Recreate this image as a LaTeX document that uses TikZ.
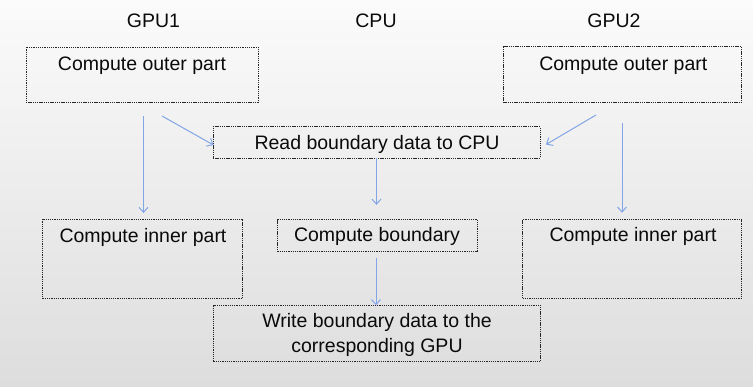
\documentclass[tikz,border=0pt]{standalone}
\usepackage{fontspec}
\setmainfont{Liberation Sans}
\usetikzlibrary{arrows.meta}
\definecolor{bgtop}{RGB}{251,251,251}
\definecolor{bgbot}{RGB}{221,221,221}
\definecolor{arr}{RGB}{130,165,232}
\definecolor{txtc}{RGB}{10,10,10}
\tikzset{
  stepbox/.style={draw=black!85, dash pattern=on 1.3pt off 0.9pt, line width=0.85pt, inner sep=0pt, outer sep=0pt},
  lbl/.style={font=\fontsize{19.5pt}{25pt}\selectfont, text=txtc, inner sep=0pt},
  flow/.style={draw=arr, line width=1pt, -{Straight Barb[length=5pt,width=9pt]}}
}
\begin{document}
\begin{tikzpicture}[x=1pt,y=-1pt]
\useasboundingbox (0,0) rectangle (753,386);
\shade[top color=bgtop, bottom color=bgbot] (0,0) rectangle (753,386);

% column headings
\node[lbl, anchor=base] (h1) at (153.5,27.5) {GPU1};
\node[lbl, anchor=base] (h2) at (376,27.5) {CPU};
\node[lbl, anchor=base] (h3) at (614,27.5) {GPU2};

% boxes
\node[stepbox, minimum width=232pt, minimum height=55pt] (o1) at (142,74.5) {};
\node[stepbox, minimum width=238.5pt, minimum height=55.5pt] (o2) at (622.5,74.5) {};
\node[stepbox, minimum width=327pt, minimum height=31.5pt] (rd) at (376.5,142.5) {};
\node[stepbox, minimum width=200pt, minimum height=32.5pt] (bd) at (377.3,235.6) {};
\node[stepbox, minimum width=200pt, minimum height=79.5pt] (i1) at (142.5,258.8) {};
\node[stepbox, minimum width=219pt, minimum height=78.5pt] (i2) at (632.2,259) {};
\node[stepbox, minimum width=327pt, minimum height=56.5pt] (wr) at (377,333.5) {};

% texts
\node[lbl, anchor=base] (o1t) at (142,70.5) {Compute outer part};
\node[lbl, anchor=base] (o2t) at (623.3,70.3) {Compute outer part};
\node[lbl, anchor=base] (rdt) at (377,149.3) {Read boundary data to CPU};
\node[lbl, anchor=base] (bdt) at (377,241.7) {Compute boundary};
\node[lbl, anchor=base] (i1t) at (143,242.3) {Compute inner part};
\node[lbl, anchor=base] (i2t) at (633,241.8) {Compute inner part};
\node[lbl, align=center] (wrt) at (377,335.1) {Write boundary data to the\\corresponding GPU};

% connector start points
\coordinate (s1) at (143.5,116);
\coordinate (s2) at (162,116);
\coordinate (s3) at (596,115);
\coordinate (s4) at (622,123);
\coordinate (e2) at (213.5,145);
\coordinate (e3) at (546,144.5);

\draw[flow, shorten >=6pt] (s1) -- (s1 |- i1.north);
\draw[flow] (s2) -- (e2);
\draw[flow] (s3) -- (e3);
\draw[flow, shorten >=7pt] (s4) -- (s4 |- i2.north);
\draw[flow, shorten >=14.5pt] (rd.south -| 376.5,0) -- (bd.north -| 376.5,0);
\draw[flow, shorten <=6pt] (bd.south -| 376,0) -- (wr.north -| 376,0);
\end{tikzpicture}
\end{document}
